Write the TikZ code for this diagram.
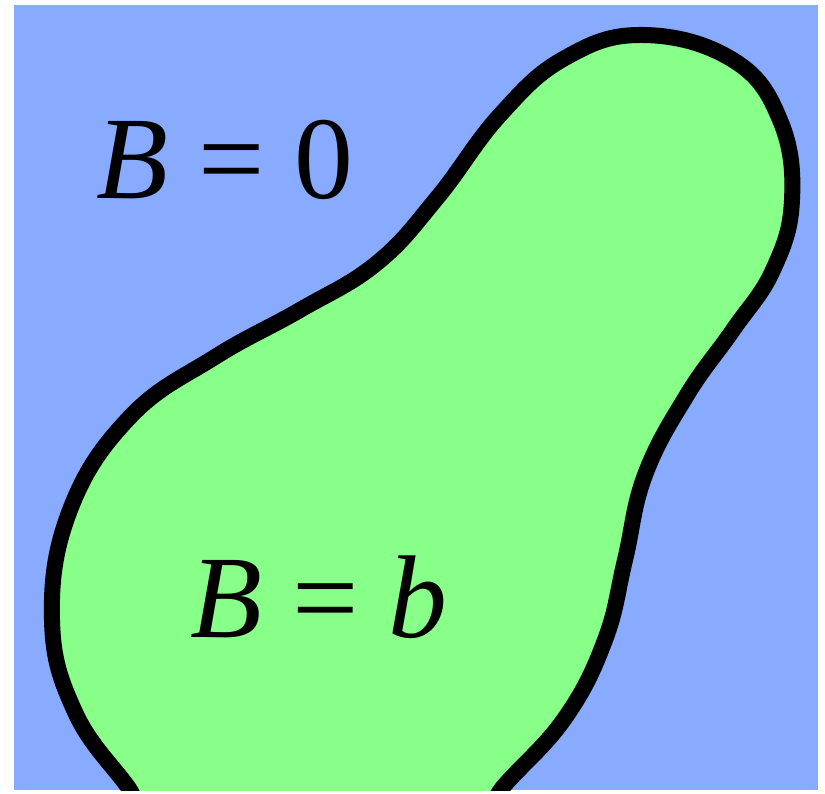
\documentclass[tikz,border=0pt]{standalone}
\usepackage{fontspec}
\setmainfont{Liberation Serif}
\usepackage{tikz}
\usetikzlibrary{positioning}
\usepackage{xcolor}
\definecolor{FieldBlue}{HTML}{88AAFF}
\definecolor{RegionGreen}{HTML}{88FF88}
\tikzset{
    field/.style={fill=FieldBlue, draw=none},
    region/.style={fill=RegionGreen, draw=black, line width=0.32cm, line join=round},
    lbl/.style={font=\fontsize{67}{72}\selectfont, inner sep=0pt, anchor=base},
}

\begin{document}
\begin{tikzpicture}[x=0.02cm, y=-0.02cm]
\useasboundingbox (0,0) rectangle (825,794);
% outside
\fill[field] (14,5) rectangle (818,790);
% region, cut at the lower edge
\begin{scope}
\clip (14,5) rectangle (818,790);
\draw[region] plot[smooth cycle, tension=0.7] coordinates {
    (128,787) (75,712) (52,620) (70,510) (130,417) (215,357)
    (300,310) (377,263) (437,198) (500,115) (565,58) (643,35)
    (733,60) (780,120) (792,200) (773,270) (733,330) (687,395)
    (645,475) (625,560) (605,640) (565,718) (503,787)
    (470,830) (310,870) (160,830)};
\end{scope}
% labels
\node[lbl] (zero) at (225,198) {\textit{B} = 0};
\node[lbl] (inside) at (319,637) {\textit{B} = \textit{b}};
\end{tikzpicture}
\end{document}
